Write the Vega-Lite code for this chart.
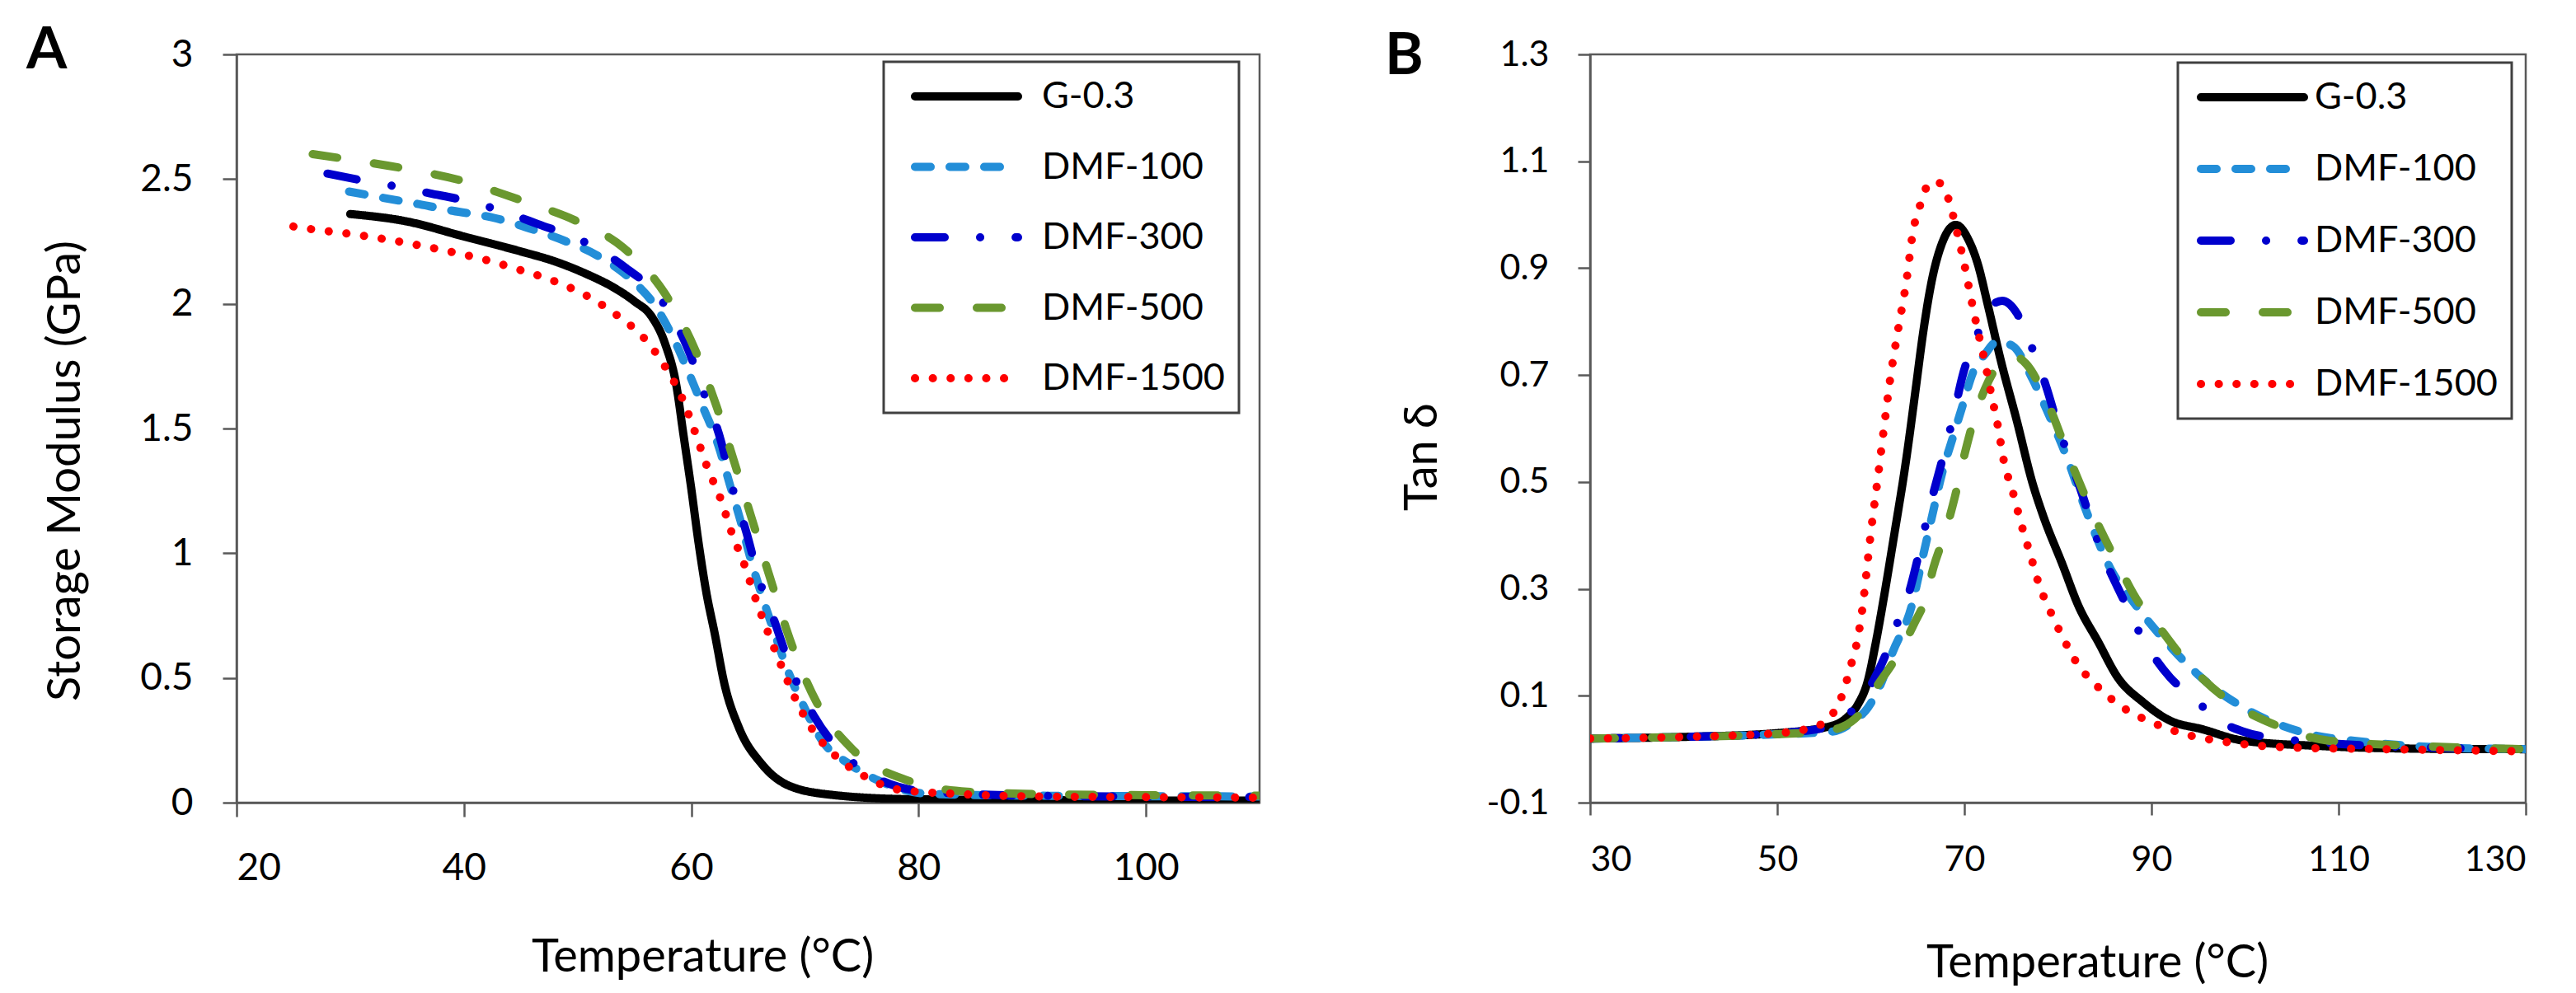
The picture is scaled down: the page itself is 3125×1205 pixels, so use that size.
{
  "$schema": "https://vega.github.io/schema/vega-lite/v6.json",
  "description": "Storage modulus (A) and tan delta (B) versus temperature for G-0.3 and DMF samples.",
  "background": "white",
  "padding": {"left": 30, "top": 24, "right": 6, "bottom": 4},
  "config": {
    "font": "Lato",
    "view": {"stroke": "#595959", "strokeWidth": 2.5},
    "axis": {
      "grid": false,
      "domainColor": "#595959",
      "domainWidth": 2.5,
      "tickColor": "#595959",
      "tickWidth": 2.5,
      "labelColor": "black",
      "titleColor": "black",
      "labelFont": "Lato",
      "titleFont": "Lato",
      "titleFontWeight": "normal",
      "titleFontSize": 56
    },
    "legend": {
      "orient": "none",
      "title": null,
      "fillColor": "white",
      "strokeColor": "#404040",
      "padding": 17,
      "labelFont": "Lato",
      "labelFontSize": 45,
      "labelColor": "black",
      "labelLimit": 400,
      "symbolType": "stroke",
      "symbolSize": 15625,
      "symbolStrokeWidth": 10,
      "clipHeight": 50
    },
    "title": {"font": "Lato", "fontSize": 71, "fontWeight": "bold", "color": "black", "anchor": "start", "frame": "group", "baseline": "alphabetic", "offset": 0}
  },
  "datasets": {
    "modulus": [
      {"series": "G-0.3", "temp": 30, "value": 2.36},
      {"series": "G-0.3", "temp": 35, "value": 2.33},
      {"series": "G-0.3", "temp": 40, "value": 2.27},
      {"series": "G-0.3", "temp": 45, "value": 2.21},
      {"series": "G-0.3", "temp": 48, "value": 2.17},
      {"series": "G-0.3", "temp": 51, "value": 2.115},
      {"series": "G-0.3", "temp": 53, "value": 2.07},
      {"series": "G-0.3", "temp": 55, "value": 2.01},
      {"series": "G-0.3", "temp": 56.5, "value": 1.95},
      {"series": "G-0.3", "temp": 57.7, "value": 1.84},
      {"series": "G-0.3", "temp": 58.7, "value": 1.67},
      {"series": "G-0.3", "temp": 59.3, "value": 1.48},
      {"series": "G-0.3", "temp": 60, "value": 1.26},
      {"series": "G-0.3", "temp": 60.65, "value": 1.04},
      {"series": "G-0.3", "temp": 61.3, "value": 0.85},
      {"series": "G-0.3", "temp": 62.1, "value": 0.67},
      {"series": "G-0.3", "temp": 62.9, "value": 0.48},
      {"series": "G-0.3", "temp": 64.2, "value": 0.3},
      {"series": "G-0.3", "temp": 66.2, "value": 0.155},
      {"series": "G-0.3", "temp": 68.7, "value": 0.066},
      {"series": "G-0.3", "temp": 72.6, "value": 0.03},
      {"series": "G-0.3", "temp": 79, "value": 0.014},
      {"series": "G-0.3", "temp": 90, "value": 0.01},
      {"series": "G-0.3", "temp": 110, "value": 0.008},
      {"series": "DMF-100", "temp": 29.9, "value": 2.45},
      {"series": "DMF-100", "temp": 33, "value": 2.424},
      {"series": "DMF-100", "temp": 36, "value": 2.4},
      {"series": "DMF-100", "temp": 39, "value": 2.373},
      {"series": "DMF-100", "temp": 42.6, "value": 2.345},
      {"series": "DMF-100", "temp": 46.4, "value": 2.293},
      {"series": "DMF-100", "temp": 49, "value": 2.25},
      {"series": "DMF-100", "temp": 51.6, "value": 2.197},
      {"series": "DMF-100", "temp": 54.8, "value": 2.094},
      {"series": "DMF-100", "temp": 56.7, "value": 2.0},
      {"series": "DMF-100", "temp": 58.4, "value": 1.865},
      {"series": "DMF-100", "temp": 59.7, "value": 1.732},
      {"series": "DMF-100", "temp": 60.9, "value": 1.6},
      {"series": "DMF-100", "temp": 62.4, "value": 1.43},
      {"series": "DMF-100", "temp": 63.4, "value": 1.275},
      {"series": "DMF-100", "temp": 64.35, "value": 1.128},
      {"series": "DMF-100", "temp": 65.3, "value": 0.965},
      {"series": "DMF-100", "temp": 66.3, "value": 0.819},
      {"series": "DMF-100", "temp": 67.4, "value": 0.67},
      {"series": "DMF-100", "temp": 68.55, "value": 0.523},
      {"series": "DMF-100", "temp": 69.86, "value": 0.39},
      {"series": "DMF-100", "temp": 71.6, "value": 0.243},
      {"series": "DMF-100", "temp": 73.9, "value": 0.155},
      {"series": "DMF-100", "temp": 76.5, "value": 0.088},
      {"series": "DMF-100", "temp": 80.7, "value": 0.036},
      {"series": "DMF-100", "temp": 90, "value": 0.028},
      {"series": "DMF-100", "temp": 110, "value": 0.025},
      {"series": "DMF-300", "temp": 28, "value": 2.522},
      {"series": "DMF-300", "temp": 31, "value": 2.495},
      {"series": "DMF-300", "temp": 34.2, "value": 2.469},
      {"series": "DMF-300", "temp": 37, "value": 2.443},
      {"series": "DMF-300", "temp": 40, "value": 2.415},
      {"series": "DMF-300", "temp": 42.6, "value": 2.383},
      {"series": "DMF-300", "temp": 46.5, "value": 2.32},
      {"series": "DMF-300", "temp": 50.6, "value": 2.248},
      {"series": "DMF-300", "temp": 54.2, "value": 2.145},
      {"series": "DMF-300", "temp": 57.4, "value": 2.013},
      {"series": "DMF-300", "temp": 59.7, "value": 1.82},
      {"series": "DMF-300", "temp": 61.1, "value": 1.644},
      {"series": "DMF-300", "temp": 62.6, "value": 1.452},
      {"series": "DMF-300", "temp": 63.55, "value": 1.275},
      {"series": "DMF-300", "temp": 64.85, "value": 1.084},
      {"series": "DMF-300", "temp": 65.95, "value": 0.899},
      {"series": "DMF-300", "temp": 67.3, "value": 0.73},
      {"series": "DMF-300", "temp": 68.9, "value": 0.523},
      {"series": "DMF-300", "temp": 70.8, "value": 0.347},
      {"series": "DMF-300", "temp": 73.3, "value": 0.198},
      {"series": "DMF-300", "temp": 75.85, "value": 0.11},
      {"series": "DMF-300", "temp": 80.7, "value": 0.044},
      {"series": "DMF-300", "temp": 90, "value": 0.028},
      {"series": "DMF-300", "temp": 110, "value": 0.022},
      {"series": "DMF-500", "temp": 26.7, "value": 2.6},
      {"series": "DMF-500", "temp": 30, "value": 2.578},
      {"series": "DMF-500", "temp": 34.9, "value": 2.541},
      {"series": "DMF-500", "temp": 40.1, "value": 2.49},
      {"series": "DMF-500", "temp": 43, "value": 2.447},
      {"series": "DMF-500", "temp": 46, "value": 2.4},
      {"series": "DMF-500", "temp": 50, "value": 2.33},
      {"series": "DMF-500", "temp": 54, "value": 2.226},
      {"series": "DMF-500", "temp": 57.7, "value": 2.04},
      {"series": "DMF-500", "temp": 60.3, "value": 1.82},
      {"series": "DMF-500", "temp": 62.25, "value": 1.586},
      {"series": "DMF-500", "temp": 63.9, "value": 1.349},
      {"series": "DMF-500", "temp": 65.5, "value": 1.113},
      {"series": "DMF-500", "temp": 67.1, "value": 0.877},
      {"series": "DMF-500", "temp": 68.9, "value": 0.626},
      {"series": "DMF-500", "temp": 71, "value": 0.405},
      {"series": "DMF-500", "temp": 74.2, "value": 0.213},
      {"series": "DMF-500", "temp": 79.1, "value": 0.088},
      {"series": "DMF-500", "temp": 84.3, "value": 0.044},
      {"series": "DMF-500", "temp": 90, "value": 0.035},
      {"series": "DMF-500", "temp": 100, "value": 0.03},
      {"series": "DMF-500", "temp": 110, "value": 0.028},
      {"series": "DMF-1500", "temp": 25, "value": 2.31},
      {"series": "DMF-1500", "temp": 26.6, "value": 2.299},
      {"series": "DMF-1500", "temp": 30, "value": 2.28},
      {"series": "DMF-1500", "temp": 32.8, "value": 2.261},
      {"series": "DMF-1500", "temp": 36, "value": 2.235},
      {"series": "DMF-1500", "temp": 39, "value": 2.207},
      {"series": "DMF-1500", "temp": 42, "value": 2.175},
      {"series": "DMF-1500", "temp": 45, "value": 2.135},
      {"series": "DMF-1500", "temp": 48, "value": 2.09},
      {"series": "DMF-1500", "temp": 50.9, "value": 2.03},
      {"series": "DMF-1500", "temp": 53.5, "value": 1.953},
      {"series": "DMF-1500", "temp": 55.8, "value": 1.865},
      {"series": "DMF-1500", "temp": 57.7, "value": 1.748},
      {"series": "DMF-1500", "temp": 59.2, "value": 1.622},
      {"series": "DMF-1500", "temp": 60.3, "value": 1.49},
      {"series": "DMF-1500", "temp": 61.45, "value": 1.34},
      {"series": "DMF-1500", "temp": 62.6, "value": 1.216},
      {"series": "DMF-1500", "temp": 63.55, "value": 1.084},
      {"series": "DMF-1500", "temp": 64.7, "value": 0.951},
      {"series": "DMF-1500", "temp": 65.65, "value": 0.819},
      {"series": "DMF-1500", "temp": 66.8, "value": 0.677},
      {"series": "DMF-1500", "temp": 67.9, "value": 0.552},
      {"series": "DMF-1500", "temp": 69.2, "value": 0.413},
      {"series": "DMF-1500", "temp": 70.65, "value": 0.294},
      {"series": "DMF-1500", "temp": 72.75, "value": 0.185},
      {"series": "DMF-1500", "temp": 75.4, "value": 0.102},
      {"series": "DMF-1500", "temp": 78.4, "value": 0.051},
      {"series": "DMF-1500", "temp": 83, "value": 0.036},
      {"series": "DMF-1500", "temp": 90, "value": 0.025},
      {"series": "DMF-1500", "temp": 100, "value": 0.022},
      {"series": "DMF-1500", "temp": 110, "value": 0.02}
    ],
    "tandelta": [
      {"series": "G-0.3", "temp": 30, "value": 0.02},
      {"series": "G-0.3", "temp": 40, "value": 0.023},
      {"series": "G-0.3", "temp": 50, "value": 0.03},
      {"series": "G-0.3", "temp": 55.9, "value": 0.044},
      {"series": "G-0.3", "temp": 57.5, "value": 0.06},
      {"series": "G-0.3", "temp": 58.6, "value": 0.083},
      {"series": "G-0.3", "temp": 59.7, "value": 0.129},
      {"series": "G-0.3", "temp": 60.5, "value": 0.196},
      {"series": "G-0.3", "temp": 61.4, "value": 0.284},
      {"series": "G-0.3", "temp": 62.4, "value": 0.39},
      {"series": "G-0.3", "temp": 63.8, "value": 0.544},
      {"series": "G-0.3", "temp": 64.8, "value": 0.674},
      {"series": "G-0.3", "temp": 65.6, "value": 0.78},
      {"series": "G-0.3", "temp": 66.5, "value": 0.875},
      {"series": "G-0.3", "temp": 67.6, "value": 0.946},
      {"series": "G-0.3", "temp": 69.1, "value": 0.981},
      {"series": "G-0.3", "temp": 70.5, "value": 0.951},
      {"series": "G-0.3", "temp": 71.4, "value": 0.91},
      {"series": "G-0.3", "temp": 72.55, "value": 0.828},
      {"series": "G-0.3", "temp": 73.9, "value": 0.727},
      {"series": "G-0.3", "temp": 75.6, "value": 0.615},
      {"series": "G-0.3", "temp": 77.3, "value": 0.497},
      {"series": "G-0.3", "temp": 78.4, "value": 0.438},
      {"series": "G-0.3", "temp": 80.5, "value": 0.345},
      {"series": "G-0.3", "temp": 82.2, "value": 0.268},
      {"series": "G-0.3", "temp": 84.3, "value": 0.201},
      {"series": "G-0.3", "temp": 86.4, "value": 0.134},
      {"series": "G-0.3", "temp": 89.1, "value": 0.088},
      {"series": "G-0.3", "temp": 91.8, "value": 0.055},
      {"series": "G-0.3", "temp": 95.5, "value": 0.037},
      {"series": "G-0.3", "temp": 99.8, "value": 0.016},
      {"series": "G-0.3", "temp": 108, "value": 0.006},
      {"series": "G-0.3", "temp": 118.5, "value": 0.001},
      {"series": "G-0.3", "temp": 130, "value": 0.0},
      {"series": "DMF-100", "temp": 30, "value": 0.02},
      {"series": "DMF-100", "temp": 40, "value": 0.023},
      {"series": "DMF-100", "temp": 50, "value": 0.028},
      {"series": "DMF-100", "temp": 55.9, "value": 0.033},
      {"series": "DMF-100", "temp": 58, "value": 0.05},
      {"series": "DMF-100", "temp": 59.7, "value": 0.078},
      {"series": "DMF-100", "temp": 61, "value": 0.119},
      {"series": "DMF-100", "temp": 62.3, "value": 0.18},
      {"series": "DMF-100", "temp": 64.4, "value": 0.27},
      {"series": "DMF-100", "temp": 65.5, "value": 0.355},
      {"series": "DMF-100", "temp": 66.5, "value": 0.432},
      {"series": "DMF-100", "temp": 67.6, "value": 0.515},
      {"series": "DMF-100", "temp": 68.8, "value": 0.585},
      {"series": "DMF-100", "temp": 69.85, "value": 0.645},
      {"series": "DMF-100", "temp": 70.9, "value": 0.704},
      {"series": "DMF-100", "temp": 72.2, "value": 0.739},
      {"series": "DMF-100", "temp": 73.56, "value": 0.763},
      {"series": "DMF-100", "temp": 75.2, "value": 0.754},
      {"series": "DMF-100", "temp": 77.3, "value": 0.692},
      {"series": "DMF-100", "temp": 79, "value": 0.627},
      {"series": "DMF-100", "temp": 81, "value": 0.544},
      {"series": "DMF-100", "temp": 82.7, "value": 0.461},
      {"series": "DMF-100", "temp": 84, "value": 0.402},
      {"series": "DMF-100", "temp": 85.7, "value": 0.335},
      {"series": "DMF-100", "temp": 87.45, "value": 0.29},
      {"series": "DMF-100", "temp": 91.8, "value": 0.196},
      {"series": "DMF-100", "temp": 95, "value": 0.139},
      {"series": "DMF-100", "temp": 99.8, "value": 0.078},
      {"series": "DMF-100", "temp": 106.25, "value": 0.031},
      {"series": "DMF-100", "temp": 113.2, "value": 0.013},
      {"series": "DMF-100", "temp": 121.25, "value": 0.003},
      {"series": "DMF-100", "temp": 130, "value": 0.0},
      {"series": "DMF-300", "temp": 30, "value": 0.02},
      {"series": "DMF-300", "temp": 40, "value": 0.023},
      {"series": "DMF-300", "temp": 50, "value": 0.03},
      {"series": "DMF-300", "temp": 55, "value": 0.04},
      {"series": "DMF-300", "temp": 57, "value": 0.057},
      {"series": "DMF-300", "temp": 58.6, "value": 0.083},
      {"series": "DMF-300", "temp": 60.3, "value": 0.129},
      {"series": "DMF-300", "temp": 61.8, "value": 0.186},
      {"series": "DMF-300", "temp": 62.75, "value": 0.232},
      {"series": "DMF-300", "temp": 64, "value": 0.288},
      {"series": "DMF-300", "temp": 65.2, "value": 0.37},
      {"series": "DMF-300", "temp": 66.3, "value": 0.453},
      {"series": "DMF-300", "temp": 67.5, "value": 0.532},
      {"series": "DMF-300", "temp": 68.8, "value": 0.621},
      {"series": "DMF-300", "temp": 69.8, "value": 0.698},
      {"series": "DMF-300", "temp": 71.5, "value": 0.78},
      {"series": "DMF-300", "temp": 72.9, "value": 0.83},
      {"series": "DMF-300", "temp": 74.05, "value": 0.839},
      {"series": "DMF-300", "temp": 75.6, "value": 0.816},
      {"series": "DMF-300", "temp": 77, "value": 0.761},
      {"series": "DMF-300", "temp": 78.7, "value": 0.681},
      {"series": "DMF-300", "temp": 80.1, "value": 0.6},
      {"series": "DMF-300", "temp": 82.2, "value": 0.497},
      {"series": "DMF-300", "temp": 84.9, "value": 0.36},
      {"series": "DMF-300", "temp": 86.9, "value": 0.284},
      {"series": "DMF-300", "temp": 89.1, "value": 0.206},
      {"series": "DMF-300", "temp": 92, "value": 0.134},
      {"series": "DMF-300", "temp": 94.5, "value": 0.096},
      {"series": "DMF-300", "temp": 96.9, "value": 0.057},
      {"series": "DMF-300", "temp": 99.8, "value": 0.033},
      {"series": "DMF-300", "temp": 104.6, "value": 0.018},
      {"series": "DMF-300", "temp": 110, "value": 0.01},
      {"series": "DMF-300", "temp": 120, "value": 0.003},
      {"series": "DMF-300", "temp": 130, "value": 0.0},
      {"series": "DMF-500", "temp": 30, "value": 0.02},
      {"series": "DMF-500", "temp": 40, "value": 0.023},
      {"series": "DMF-500", "temp": 50, "value": 0.028},
      {"series": "DMF-500", "temp": 55, "value": 0.034},
      {"series": "DMF-500", "temp": 57, "value": 0.042},
      {"series": "DMF-500", "temp": 59.1, "value": 0.072},
      {"series": "DMF-500", "temp": 60.7, "value": 0.119},
      {"series": "DMF-500", "temp": 62.3, "value": 0.16},
      {"series": "DMF-500", "temp": 64.7, "value": 0.237},
      {"series": "DMF-500", "temp": 65.8, "value": 0.279},
      {"series": "DMF-500", "temp": 66.7, "value": 0.34},
      {"series": "DMF-500", "temp": 68, "value": 0.408},
      {"series": "DMF-500", "temp": 69, "value": 0.473},
      {"series": "DMF-500", "temp": 70, "value": 0.55},
      {"series": "DMF-500", "temp": 71.2, "value": 0.627},
      {"series": "DMF-500", "temp": 72.2, "value": 0.674},
      {"series": "DMF-500", "temp": 74.05, "value": 0.727},
      {"series": "DMF-500", "temp": 75.2, "value": 0.736},
      {"series": "DMF-500", "temp": 76.6, "value": 0.721},
      {"series": "DMF-500", "temp": 79, "value": 0.644},
      {"series": "DMF-500", "temp": 81.1, "value": 0.55},
      {"series": "DMF-500", "temp": 83.5, "value": 0.45},
      {"series": "DMF-500", "temp": 86.3, "value": 0.35},
      {"series": "DMF-500", "temp": 88.7, "value": 0.273},
      {"series": "DMF-500", "temp": 90.2, "value": 0.242},
      {"series": "DMF-500", "temp": 93.4, "value": 0.17},
      {"series": "DMF-500", "temp": 97.7, "value": 0.098},
      {"series": "DMF-500", "temp": 103, "value": 0.047},
      {"series": "DMF-500", "temp": 108.9, "value": 0.016},
      {"series": "DMF-500", "temp": 118.5, "value": 0.006},
      {"series": "DMF-500", "temp": 130, "value": 0.0},
      {"series": "DMF-1500", "temp": 30, "value": 0.02},
      {"series": "DMF-1500", "temp": 40, "value": 0.023},
      {"series": "DMF-1500", "temp": 50, "value": 0.03},
      {"series": "DMF-1500", "temp": 54, "value": 0.042},
      {"series": "DMF-1500", "temp": 55.4, "value": 0.055},
      {"series": "DMF-1500", "temp": 56.4, "value": 0.08},
      {"series": "DMF-1500", "temp": 57.1, "value": 0.109},
      {"series": "DMF-1500", "temp": 57.6, "value": 0.139},
      {"series": "DMF-1500", "temp": 58.05, "value": 0.168},
      {"series": "DMF-1500", "temp": 58.5, "value": 0.198},
      {"series": "DMF-1500", "temp": 59, "value": 0.25},
      {"series": "DMF-1500", "temp": 60.06, "value": 0.413},
      {"series": "DMF-1500", "temp": 60.74, "value": 0.506},
      {"series": "DMF-1500", "temp": 61.4, "value": 0.6},
      {"series": "DMF-1500", "temp": 62.06, "value": 0.691},
      {"series": "DMF-1500", "temp": 62.9, "value": 0.783},
      {"series": "DMF-1500", "temp": 63.8, "value": 0.875},
      {"series": "DMF-1500", "temp": 64.5, "value": 0.967},
      {"series": "DMF-1500", "temp": 65.46, "value": 1.027},
      {"series": "DMF-1500", "temp": 66.14, "value": 1.057},
      {"series": "DMF-1500", "temp": 66.85, "value": 1.062},
      {"series": "DMF-1500", "temp": 67.55, "value": 1.057},
      {"series": "DMF-1500", "temp": 68.33, "value": 1.028},
      {"series": "DMF-1500", "temp": 69.2, "value": 0.969},
      {"series": "DMF-1500", "temp": 70, "value": 0.907},
      {"series": "DMF-1500", "temp": 70.7, "value": 0.845},
      {"series": "DMF-1500", "temp": 71.4, "value": 0.786},
      {"series": "DMF-1500", "temp": 72.2, "value": 0.724},
      {"series": "DMF-1500", "temp": 72.9, "value": 0.662},
      {"series": "DMF-1500", "temp": 73.6, "value": 0.603},
      {"series": "DMF-1500", "temp": 74.2, "value": 0.541},
      {"series": "DMF-1500", "temp": 75.2, "value": 0.48},
      {"series": "DMF-1500", "temp": 76.1, "value": 0.42},
      {"series": "DMF-1500", "temp": 77.1, "value": 0.361},
      {"series": "DMF-1500", "temp": 78.1, "value": 0.302},
      {"series": "DMF-1500", "temp": 78.8, "value": 0.273},
      {"series": "DMF-1500", "temp": 80.3, "value": 0.217},
      {"series": "DMF-1500", "temp": 82, "value": 0.162},
      {"series": "DMF-1500", "temp": 84.3, "value": 0.116},
      {"series": "DMF-1500", "temp": 86.95, "value": 0.078},
      {"series": "DMF-1500", "temp": 90.2, "value": 0.049},
      {"series": "DMF-1500", "temp": 93.4, "value": 0.029},
      {"series": "DMF-1500", "temp": 98.2, "value": 0.013},
      {"series": "DMF-1500", "temp": 105.2, "value": 0.003},
      {"series": "DMF-1500", "temp": 115, "value": 0.0},
      {"series": "DMF-1500", "temp": 130, "value": -0.004}
    ]
  },
  "resolve": {
    "scale": {"color": "independent", "strokeDash": "independent"},
    "legend": {"color": "independent", "strokeDash": "independent"}
  },
  "spacing": 148,
  "hconcat": [
    {
      "title": {"text": "A", "dx": -255, "dy": 59},
      "width": 1241,
      "height": 908,
      "data": {"name": "modulus"},
      "mark": {"type": "line", "strokeWidth": 10, "strokeCap": "round", "strokeJoin": "round", "interpolate": "monotone", "clip": true},
      "encoding": {
        "x": {
          "field": "temp",
          "type": "quantitative",
          "scale": {"domain": [20, 110], "nice": false, "zero": false},
          "axis": {"values": [20, 40, 60, 80, 100], "title": "Temperature (°C)", "labelFontSize": 46, "tickSize": 17, "labelPadding": 40, "titlePadding": 58, "titleX": 565}
        },
        "y": {
          "field": "value",
          "type": "quantitative",
          "scale": {"domain": [0, 3], "nice": false},
          "axis": {"values": [0, 0.5, 1, 1.5, 2, 2.5, 3], "format": "~g", "title": "Storage Modulus (GPa)", "labelFontSize": 46, "tickSize": 17, "labelPadding": 36, "titlePadding": 61, "titleY": 505}
        },
        "color": {
          "field": "series",
          "type": "nominal",
          "scale": {"domain": ["G-0.3", "DMF-100", "DMF-300", "DMF-500", "DMF-1500"], "range": ["#000000", "#238ed8", "#0000cd", "#6a982f", "#ff0000"]},
          "legend": {
            "legendX": 785,
            "legendY": 9,
            "symbolOffset": 16,
            "labelOffset": 24,
            "rowPadding": 35.5,
            "encode": {"symbols": {"update": {"strokeCap": {"value": "round"}}}, "legend": {"update": {"strokeWidth": {"value": 3}}}}
          }
        },
        "strokeDash": {
          "field": "series",
          "type": "nominal",
          "scale": {"domain": ["G-0.3", "DMF-100", "DMF-300", "DMF-500", "DMF-1500"], "range": [[1, 0], [19, 23], [36, 43, 0.1, 43], [30, 45], [0.1, 21.5]]}
        }
      }
    },
    {
      "title": {"text": "B", "dx": -249, "dy": 64},
      "width": 1135,
      "height": 908,
      "data": {"name": "tandelta"},
      "mark": {"type": "line", "strokeWidth": 10, "strokeCap": "round", "strokeJoin": "round", "interpolate": "monotone", "clip": true},
      "encoding": {
        "x": {
          "field": "temp",
          "type": "quantitative",
          "scale": {"domain": [30, 130], "nice": false, "zero": false},
          "axis": {"values": [30, 50, 70, 90, 110, 130], "title": "Temperature (°C)", "labelFontSize": 43, "tickSize": 15, "labelPadding": 33, "titlePadding": 76, "titleX": 615}
        },
        "y": {
          "field": "value",
          "type": "quantitative",
          "scale": {"domain": [-0.1, 1.3], "nice": false, "zero": false},
          "axis": {
            "values": [-0.1, 0.1, 0.3, 0.5, 0.7, 0.9, 1.1, 1.3],
            "labelExpr": "datum.value < 0 ? '-' + format(-datum.value, '.1f') : format(datum.value, '.1f')",
            "title": "Tan δ",
            "labelFontSize": 43,
            "tickSize": 15,
            "labelPadding": 35,
            "titlePadding": 48,
            "titleY": 488
          }
        },
        "color": {
          "field": "series",
          "type": "nominal",
          "scale": {"domain": ["G-0.3", "DMF-100", "DMF-300", "DMF-500", "DMF-1500"], "range": ["#000000", "#238ed8", "#0000cd", "#6a982f", "#ff0000"]},
          "legend": {
            "legendX": 713,
            "legendY": 10,
            "symbolOffset": 6,
            "labelOffset": 8,
            "rowPadding": 37,
            "encode": {"symbols": {"update": {"strokeCap": {"value": "round"}}}, "legend": {"update": {"strokeWidth": {"value": 3}}}}
          }
        },
        "strokeDash": {
          "field": "series",
          "type": "nominal",
          "scale": {"domain": ["G-0.3", "DMF-100", "DMF-300", "DMF-500", "DMF-1500"], "range": [[1, 0], [19, 23], [36, 43, 0.1, 43], [30, 45], [0.1, 21.5]]}
        }
      }
    }
  ]
}
